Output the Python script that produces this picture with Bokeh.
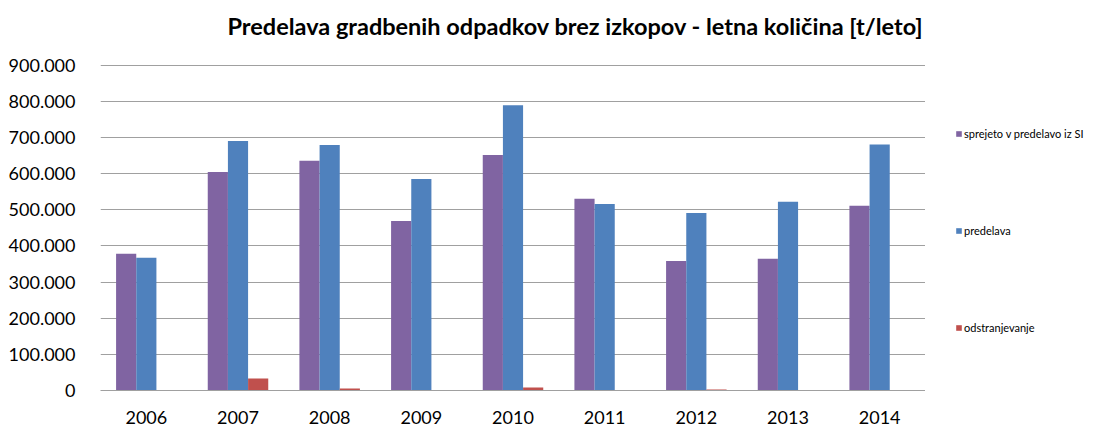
from bokeh.plotting import figure
from bokeh.layouts import row
from bokeh.models import FactorRange, Range1d, FixedTicker, Legend, LegendItem, ColumnDataSource, Title
from bokeh.transform import dodge
from bokeh.embed import file_html
from bokeh.resources import INLINE

years = ["2006", "2007", "2008", "2009", "2010", "2011", "2012", "2013", "2014"]
sprejeto = [378000, 604000, 635000, 469000, 651000, 530000, 358000, 364000, 511000]
predelava = [367000, 690000, 679000, 585000, 789000, 516000, 491000, 522000, 680000]
odstranjevanje = [0, 33000, 5500, 0, 8000, 0, 3000, 0, 0]
series_names = ["sprejeto v predelavo iz SI", "predelava", "odstranjevanje"]
colors = ["#8064A2", "#4F81BD", "#C0504D"]
y_ticks = [0, 100000, 200000, 300000, 400000, 500000, 600000, 700000, 800000, 900000]
y_tick_labels = ["0", "100.000", "200.000", "300.000", "400.000", "500.000",
                 "600.000", "700.000", "800.000", "900.000"]
title_text = "Predelava gradbenih  odpadkov brez izkopov - letna količina  [t/leto]"

FONT = "Lato"
H = 426

src = ColumnDataSource(dict(year=years, s=sprejeto, p=predelava, o=odstranjevanje))

p = figure(x_range=FactorRange(*years, range_padding=0), y_range=Range1d(0, 901500),
           width=925, height=H, output_backend="svg", toolbar_location=None,
           min_border_left=100, min_border_right=0, min_border_top=64, min_border_bottom=H - 391)

# spacer between the frame and the title
p.add_layout(Title(text=" ", text_font=FONT, text_font_size="16px", standoff=4), "above")

p.title.text = title_text
p.title.text_font = FONT
p.title.text_font_size = "23.5px"
p.title.text_font_style = "bold"
p.title.text_color = "#000000"
p.title.align = "left"
p.title.vertical_align = "bottom"
p.title.offset = 127
p.title.standoff = 0

bw = 0.22
r1 = p.vbar(x=dodge("year", -bw, range=p.x_range), top="s", width=bw, source=src,
            fill_color=colors[0], line_color=None)
r2 = p.vbar(x=dodge("year", 0, range=p.x_range), top="p", width=bw, source=src,
            fill_color=colors[1], line_color=None)
r3 = p.vbar(x=dodge("year", bw, range=p.x_range), top="o", width=bw, source=src,
            fill_color=colors[2], line_color=None)

p.outline_line_color = None
p.xgrid.grid_line_color = None
p.ygrid.grid_line_color = "#a0a0a0"
p.ygrid.grid_line_width = 1
p.yaxis.ticker = FixedTicker(ticks=y_ticks)
p.yaxis.major_label_overrides = {t: l for t, l in zip(y_ticks, y_tick_labels)}
p.yaxis.axis_line_color = None
p.yaxis.major_tick_line_color = None
p.yaxis.minor_tick_line_color = None
p.yaxis.major_label_standoff = 19
p.yaxis.major_label_text_font = FONT
p.yaxis.major_label_text_font_size = "18px"
p.yaxis.major_label_text_color = "#000000"

p.xaxis.axis_line_color = "#a0a0a0"
p.xaxis.major_tick_line_color = None
p.xaxis.minor_tick_line_color = None
p.xaxis.major_label_standoff = 14
p.xaxis.major_label_text_font = FONT
p.xaxis.major_label_text_font_size = "18px"
p.xaxis.major_label_text_color = "#000000"

# legend panel (a separate, axis-less plot to the right of the chart)
lf = figure(width=1108 - 925, height=H, x_range=Range1d(0, 1), y_range=Range1d(0, 1),
            output_backend="svg", toolbar_location=None, min_border=0)
lf.axis.visible = False
lf.grid.visible = False
lf.outline_line_color = None
lr = [lf.vbar(x=[0], top=[0], width=0, fill_color=c, line_color=None) for c in colors]
items = [LegendItem(label=n, renderers=[r]) for n, r in zip(series_names, lr)]
lg = Legend(items=items, location=(30, 56), padding=0, margin=0, spacing=84,
            border_line_color=None, background_fill_alpha=0,
            glyph_width=7, glyph_height=7, label_height=11, label_standoff=2,
            label_text_font=FONT, label_text_font_size="11px", label_text_color="#000000")
lf.add_layout(lg, "center")

layout = row(p, lf, spacing=0)
open("out.html", "w").write(file_html(layout, INLINE))
